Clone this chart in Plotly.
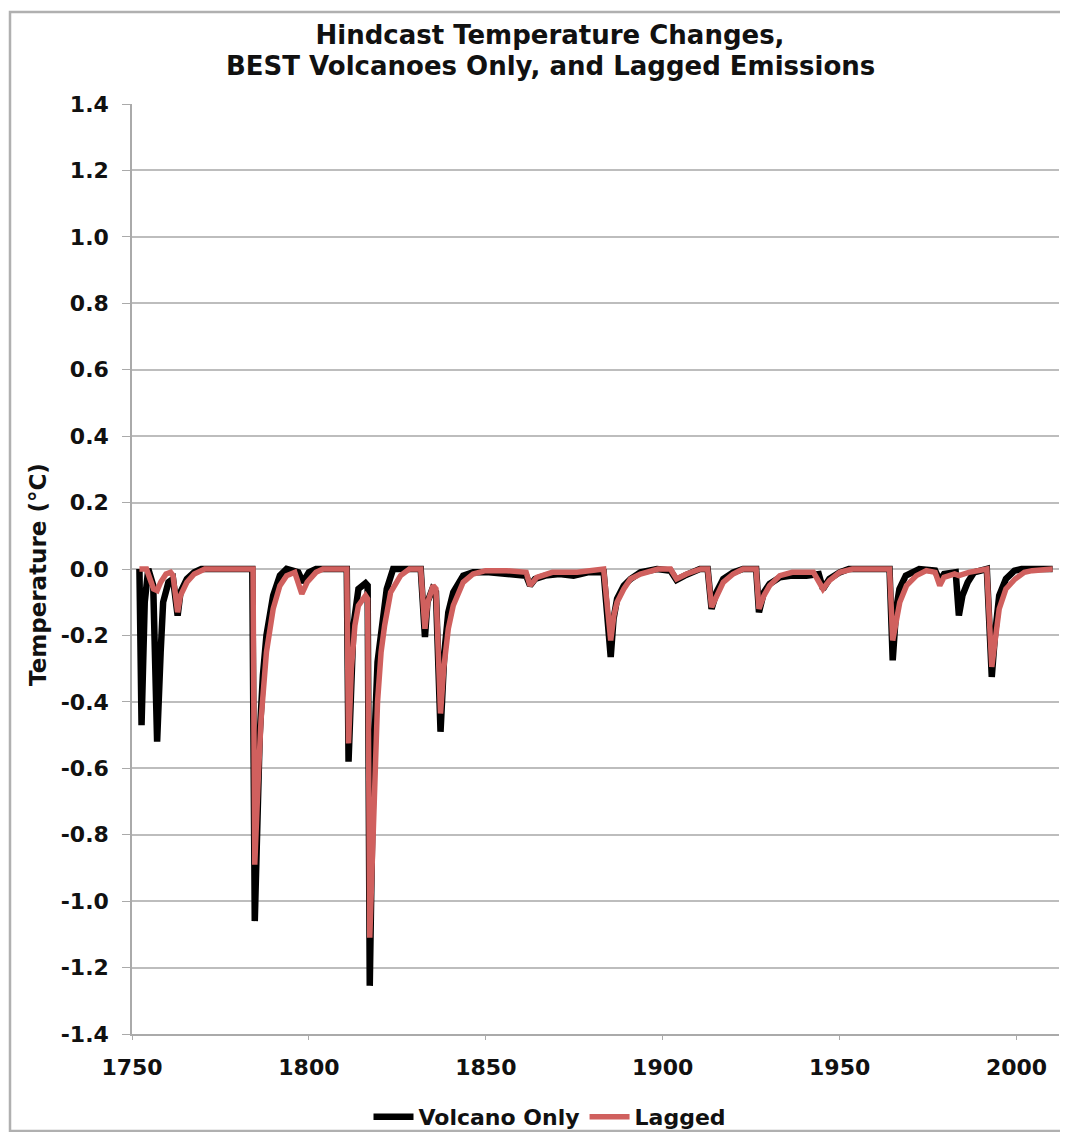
import plotly.graph_objects as go

# ---- data ----
volcano_years = [1752.1, 1752.7, 1753.6, 1754.6, 1756.0, 1757.1, 1758.1, 1758.8, 1760.3, 1761.6,
                 1762.9, 1763.7, 1765.5, 1767.6, 1769.6, 1784.0, 1784.7, 1785.3, 1786.1, 1787.0, 1788.0,
                 1789.9, 1791.8, 1793.7, 1797.0, 1798.3, 1800.0, 1802.0, 1810.7, 1811.2, 1812.0,
                 1812.6, 1814.0, 1816.0, 1816.6, 1817.2, 1817.8, 1818.4, 1819.4, 1821.0, 1822.0, 1823.8,
                 1831.6, 1832.8, 1833.5, 1834.9, 1835.9, 1837.2, 1838.3, 1839.4, 1840.8, 1843.6,
                 1846.4, 1850.9, 1855.9, 1858.9, 1861.4, 1862.5, 1863.9, 1866.8, 1870.8, 1874.8,
                 1878.8, 1883.3, 1885.3, 1886.1, 1887.1, 1889.0, 1890.9, 1893.7, 1898.4, 1902.2,
                 1903.9, 1906.2, 1910.5, 1912.7, 1913.8, 1915.2, 1917.1, 1919.9, 1922.7, 1926.4,
                 1927.2, 1928.6, 1930.2, 1933.1, 1936.6, 1940.6, 1944.1, 1945.3, 1947.1, 1950.0,
                 1952.6, 1964.1, 1965.0, 1966.0, 1966.9, 1968.7, 1972.5, 1977.0, 1978.3, 1979.5,
                 1982.8, 1983.7, 1984.7, 1986.2, 1988.0, 1991.6, 1993.0, 1993.9, 1995.1, 1997.0,
                 1999.4, 2001.4, 2010.2]
volcano_temp = [0.0, -0.47, -0.10, 0.0, -0.05, -0.52, -0.25, -0.10, -0.04, -0.03,
                -0.14, -0.07, -0.03, -0.01, 0.0, 0.0, -1.06, -0.75, -0.50, -0.32, -0.20,
                -0.08, -0.02, 0.0, -0.01, -0.04, -0.01, 0.0, 0.0, -0.58, -0.30,
                -0.17, -0.06, -0.043, -0.05, -1.255, -0.85, -0.55, -0.28, -0.12, -0.06, 0.0,
                0.0, -0.205, -0.10, -0.06, -0.07, -0.49, -0.25, -0.13, -0.07, -0.02,
                -0.01, -0.01, -0.015, -0.02, -0.02, -0.05, -0.03, -0.02, -0.015, -0.02,
                -0.01, -0.01, -0.265, -0.15, -0.09, -0.05, -0.03, -0.01, 0.0, -0.005,
                -0.033, -0.02, 0.0, 0.0, -0.12, -0.07, -0.03, -0.01, 0.0, 0.0,
                -0.13, -0.07, -0.045, -0.025, -0.02, -0.02, -0.015, -0.06, -0.03, -0.01,
                0.0, 0.0, -0.275, -0.12, -0.06, -0.02, 0.0, -0.005, -0.035, -0.015,
                -0.01, -0.14, -0.08, -0.04, -0.01, 0.0, -0.325, -0.20, -0.08, -0.03,
                -0.005, 0.0, 0.0]

lagged_years = [1752.1, 1754.1, 1755.1, 1756.1, 1757.1, 1758.1, 1759.6, 1760.9, 1761.6, 1762.9,
                1763.7, 1765.5, 1767.6, 1770.6, 1784.2, 1784.7, 1785.6, 1786.5, 1788.0, 1789.9,
                1791.8, 1793.7, 1796.0, 1798.0, 1799.5, 1802.0, 1804.0, 1810.7, 1811.2, 1812.0,
                1813.0, 1814.0, 1816.0, 1816.6, 1817.2, 1818.5, 1819.4, 1820.4, 1821.4, 1823.1,
                1825.9, 1828.4, 1831.6, 1832.8, 1833.6, 1835.1, 1835.9, 1837.2, 1838.1, 1839.4,
                1840.8, 1843.6, 1846.4, 1849.9, 1855.9, 1861.4, 1862.5, 1864.4, 1868.8, 1875.8,
                1883.3, 1885.3, 1886.2, 1887.1, 1889.0, 1890.9, 1893.7, 1898.7, 1902.2, 1903.9,
                1906.7, 1910.7, 1912.7, 1913.8, 1915.2, 1917.1, 1919.9, 1922.7, 1926.4, 1927.2,
                1928.6, 1930.2, 1933.1, 1936.6, 1942.6, 1945.3, 1947.1, 1950.0, 1953.6, 1964.1,
                1965.0, 1966.0, 1967.0, 1968.9, 1971.7, 1974.5, 1977.0, 1978.3, 1979.5, 1982.5,
                1983.7, 1986.5, 1991.6, 1993.0, 1994.0, 1995.1, 1997.0, 1999.6, 2002.2, 2004.4,
                2010.2]
lagged_temp = [0.0, 0.0, -0.03, -0.06, -0.065, -0.04, -0.015, -0.01, -0.02, -0.13,
               -0.08, -0.04, -0.015, 0.0, 0.0, -0.89, -0.65, -0.45, -0.25, -0.12,
               -0.05, -0.02, -0.01, -0.075, -0.04, -0.01, 0.0, 0.0, -0.525, -0.30,
               -0.17, -0.11, -0.08, -0.09, -1.11, -0.65, -0.40, -0.25, -0.17, -0.07,
               -0.02, 0.0, 0.0, -0.18, -0.10, -0.05, -0.06, -0.435, -0.30, -0.18,
               -0.11, -0.04, -0.015, -0.005, -0.005, -0.01, -0.05, -0.025, -0.01, -0.01,
               0.0, -0.215, -0.14, -0.10, -0.06, -0.03, -0.015, 0.0, 0.0, -0.03,
               -0.015, 0.0, 0.0, -0.115, -0.08, -0.04, -0.015, 0.0, 0.0, -0.12,
               -0.08, -0.05, -0.02, -0.01, -0.01, -0.06, -0.035, -0.01, 0.0, 0.0,
               -0.215, -0.15, -0.10, -0.05, -0.02, -0.005, -0.01, -0.05, -0.025, -0.015,
               -0.02, -0.01, 0.0, -0.295, -0.20, -0.12, -0.06, -0.03, -0.01, -0.005,
               0.0]

y_ticks = [-1.4, -1.2, -1.0, -0.8, -0.6, -0.4, -0.2, 0.0, 0.2, 0.4, 0.6, 0.8, 1.0, 1.2, 1.4]
y_tick_labels = ["-1.4", "-1.2", "-1.0", "-0.8", "-0.6", "-0.4", "-0.2", "0.0",
                 "0.2", "0.4", "0.6", "0.8", "1.0", "1.2", "1.4"]
x_ticks = [1750, 1800, 1850, 1900, 1950, 2000]

title_line1 = "Hindcast Temperature Changes,"
title_line2 = "BEST Volcanoes Only, and Lagged Emissions"
y_title = "Temperature (°C)"

FONT = "DejaVu Sans"
INK = "#111111"

fig = go.Figure()
fig.add_trace(go.Scatter(x=volcano_years, y=volcano_temp, mode="lines", name="Volcano Only",
                         line=dict(color="#000000", width=6.5)))
fig.add_trace(go.Scatter(x=lagged_years, y=lagged_temp, mode="lines", name="Lagged",
                         line=dict(color="#D0605E", width=5.5)))

# page has an 8px body margin; work in page pixel coordinates
OFF = 8
W, H = 1068 - 2 * OFF, 1140 - 2 * OFF
PL, PR, PT, PB = 132, 1059, 104, 1034          # plot area in page pixels
L, T = PL - OFF, PT - OFF
R = W - (PR - OFF)
B = H - (PB - OFF)
pw = PR - PL
ph = PB - PT

def px(x):
    return (x - PL) / pw

def py(y):
    return (PB - y) / ph

TITLE_SIZE = 26

# open frame (left, top, bottom) around the chart
bx0, bx1, by0, by1 = px(10), px(1062), py(1131), py(12)
frame_path = f"M {bx1},{by1} L {bx0},{by1} L {bx0},{by0} L {bx1},{by0}"

fig.update_layout(
    width=W, height=H,
    margin=dict(l=L, r=R, t=T, b=B, autoexpand=False),
    paper_bgcolor="white", plot_bgcolor="white",
    font=dict(family=FONT, color=INK),
    title=dict(text="<b>" + title_line1 + "</b>", x=px(550), xref="paper", xanchor="center",
               y=1 - (35 - OFF) / H, yref="container", yanchor="middle",
               font=dict(family=FONT, size=TITLE_SIZE, color=INK)),
    showlegend=True,
    legend=dict(orientation="h", x=px(550), xanchor="center", y=py(1117), yanchor="middle",
                font=dict(family=FONT, size=22, color=INK, weight="bold"),
                bgcolor="rgba(0,0,0,0)", itemwidth=40, tracegroupgap=0),
    xaxis=dict(range=[1750, 2012], tickvals=x_ticks, showgrid=False,
               showline=True, linecolor="#aaaaaa", linewidth=1.5,
               ticks="outside", ticklen=4, tickcolor="#aaaaaa", ticklabelstandoff=9,
               tickfont=dict(family=FONT, size=22, color=INK, weight="bold"),
               zeroline=False),
    yaxis=dict(range=[-1.4, 1.4], tickvals=y_ticks, ticktext=y_tick_labels,
               showgrid=True, gridcolor="#bdbdbd", gridwidth=1.5,
               showline=True, linecolor="#aaaaaa", linewidth=1.5,
               ticks="outside", ticklen=8, tickcolor="#aaaaaa", ticklabelstandoff=9,
               tickfont=dict(family=FONT, size=22, color=INK, weight="bold"),
               zeroline=False),
    annotations=[
        dict(text="<b>" + title_line2 + "</b>", xref="paper", yref="paper",
             x=px(550), y=py(66), showarrow=False, xanchor="center", yanchor="middle",
             font=dict(family=FONT, size=TITLE_SIZE, color=INK)),
        dict(text="<b>" + y_title + "</b>", xref="paper", yref="paper",
             x=px(38), y=py(575), textangle=-90, showarrow=False,
             xanchor="center", yanchor="middle",
             font=dict(family=FONT, size=23, color=INK)),
    ],
    shapes=[dict(type="path", xref="paper", yref="paper", layer="below",
                 path=frame_path, line=dict(color="#b0b0b0", width=2.5))],
)

fig.write_html("out.html")
